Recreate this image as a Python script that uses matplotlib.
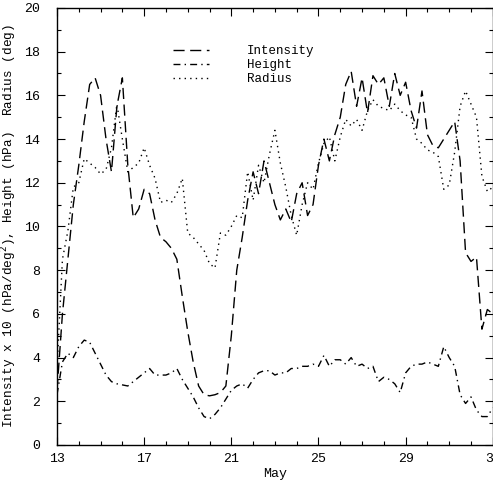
import numpy as np
import matplotlib
matplotlib.use('Agg')
import matplotlib.pyplot as plt
from matplotlib.ticker import MultipleLocator

# time axis: 6-hourly from 13 May to 33 May (= 2 June)
days = np.arange(13.0, 33.01, 0.25)

# values, four per day
intensity = [
    2.5, 6.0, 8.5, 11.0,      # 13
    12.8, 14.8, 16.5, 16.8,   # 14
    16.0, 14.0, 12.5, 15.5,   # 15
    16.8, 12.8, 10.4, 10.8,   # 16
    11.7, 11.5, 10.3, 9.5,    # 17
    9.3, 9.0, 8.5, 6.8,       # 18
    5.2, 3.8, 2.7, 2.3,       # 19
    2.25, 2.3, 2.4, 2.7,      # 20
    5.0, 8.0, 9.5, 11.2,      # 21
    12.5, 11.5, 13.0, 12.0,   # 22
    11.0, 10.3, 10.8, 10.2,   # 23
    11.5, 12.0, 10.5, 11.0,   # 24
    12.8, 14.0, 13.0, 14.2,   # 25
    15.0, 16.5, 17.1, 15.5,   # 26
    16.8, 15.2, 16.9, 16.5,   # 27
    16.8, 15.5, 17.0, 16.0,   # 28
    16.6, 15.3, 14.5, 16.2,   # 29
    14.2, 13.7, 13.6, 14.0,   # 30
    14.4, 14.8, 13.0, 8.8,    # 31
    8.4, 8.6, 5.3, 6.2,       # 32
    6.0,
]

height = [
    2.3, 3.8, 4.2, 4.0,
    4.5, 4.8, 4.7, 4.2,
    3.7, 3.2, 2.9, 2.8,
    2.75, 2.7, 2.9, 3.1,
    3.3, 3.5, 3.2, 3.2,
    3.2, 3.3, 3.5, 3.0,
    2.6, 2.2, 1.7, 1.3,
    1.2, 1.4, 1.7, 2.1,
    2.5, 2.7, 2.8, 2.6,
    3.0, 3.3, 3.4, 3.4,
    3.2, 3.3, 3.3, 3.5,
    3.5, 3.6, 3.6, 3.7,
    3.6, 4.1, 3.6, 3.9,
    3.9, 3.7, 4.0, 3.6,
    3.7, 3.5, 3.6, 2.9,
    3.1, 3.0, 2.8, 2.4,
    3.3, 3.6, 3.7, 3.7,
    3.8, 3.7, 3.6, 4.5,
    4.0, 3.6, 2.3, 1.9,
    2.2, 1.6, 1.3, 1.3,
    1.7,
]

radius = [
    3.5, 8.5, 9.8, 11.8,
    12.0, 13.1, 12.9, 12.7,
    12.4, 12.6, 13.6, 15.6,
    14.0, 12.5, 12.7, 12.9,
    13.6, 12.8, 12.2, 11.1,
    11.2, 11.1, 11.5, 12.2,
    9.7, 9.5, 9.2, 8.9,
    8.3, 8.1, 9.7, 9.6,
    10.0, 10.5, 10.4, 12.5,
    11.2, 12.8, 12.0, 13.3,
    14.4, 12.9, 11.8, 10.5,
    9.6, 11.0, 12.0, 11.7,
    12.9, 13.8, 14.1, 13.0,
    14.1, 14.9, 14.6, 14.9,
    14.4, 15.3, 15.8, 15.5,
    15.4, 15.3, 15.6, 15.3,
    15.1, 15.0, 14.0, 13.8,
    13.5, 13.4, 13.2, 11.7,
    11.9, 13.4, 15.5, 16.2,
    15.6, 15.0, 12.3, 11.6,
    11.8,
]

xticks = [13, 17, 21, 25, 29, 33]

plt.rcParams['font.family'] = ['Liberation Mono', 'DejaVu Sans Mono']
plt.rcParams['font.size'] = 9

fig = plt.figure(figsize=(4.93, 4.84), dpi=100)
ax = fig.add_axes([0.1156, 0.0806, 0.884, 0.903])

ax.plot(days, intensity, color='black', lw=1.0, ls=(0, (8, 4)), label='Intensity')
ax.plot(days, height, color='black', lw=1.0, ls=(0, (5, 3, 1, 3)), label='Height')
ax.plot(days, radius, color='black', lw=1.0, ls=(0, (1, 3)), label='Radius')

ax.set_xlim(13, 33)
ax.set_ylim(0, 20)
ax.set_xticks(xticks)
ax.xaxis.set_minor_locator(MultipleLocator(1))
ax.yaxis.set_major_locator(MultipleLocator(2))
ax.yaxis.set_minor_locator(MultipleLocator(1))
ax.tick_params(which='both', direction='in', top=True, right=True, width=0.8)
ax.tick_params(which='major', length=6)
ax.tick_params(which='minor', length=3)
ax.tick_params(axis='y', pad=12, labelsize=9.5)
ax.tick_params(axis='x', pad=6, labelsize=9.5)
for s in ax.spines.values():
    s.set_linewidth(1.0)

ax.set_xlabel('May', fontsize=9.5, labelpad=2)
ax.set_ylabel('Intensity x 10 (hPa/deg$^2$), Height (hPa)  Radius (deg)',
              fontsize=9.2, labelpad=4)

ax.legend(loc='upper left', bbox_to_anchor=(0.24, 0.94), frameon=False,
          handlelength=2.9, handletextpad=3.0, labelspacing=0.15, fontsize=9)

plt.savefig('out.png', dpi=100)
print('Saved to out.png')
